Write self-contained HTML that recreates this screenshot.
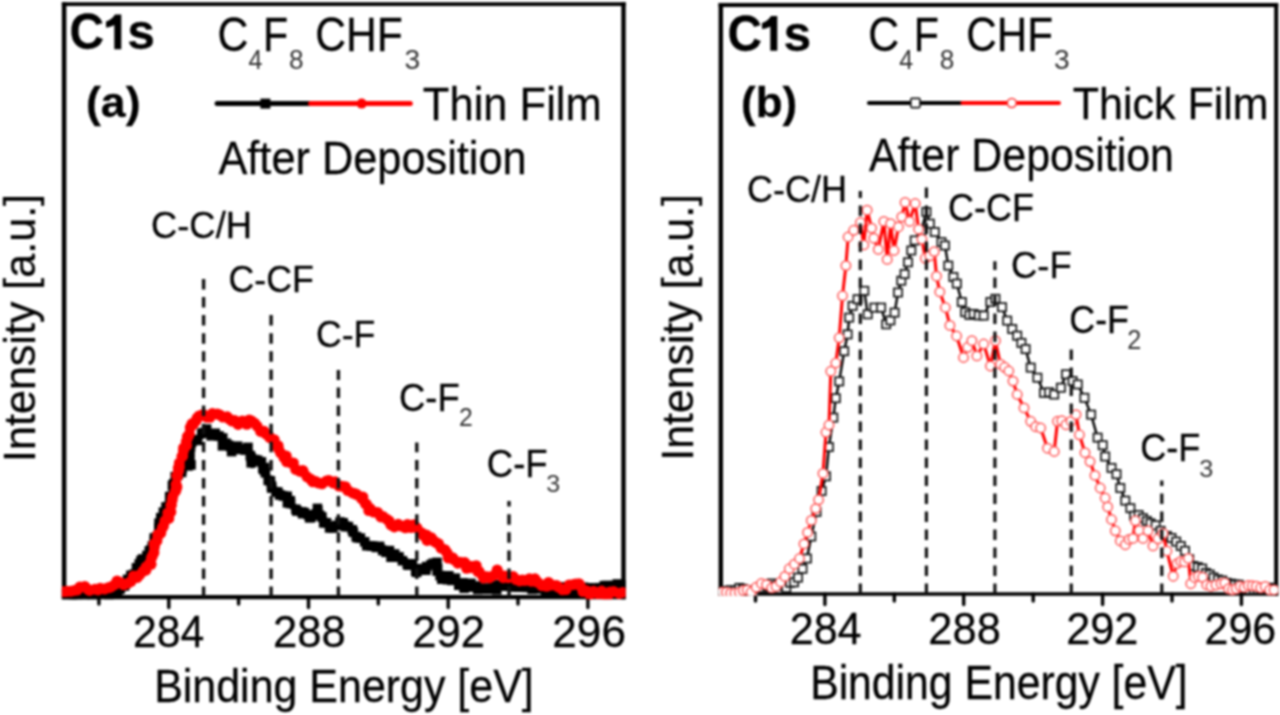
<!DOCTYPE html>
<html><head><meta charset="utf-8"><style>
html,body{margin:0;padding:0;background:#fff;width:1280px;height:715px;overflow:hidden}
svg{display:block}
text{font-family:"Liberation Sans", sans-serif;fill:#000;stroke:#000;stroke-width:0.25px}
text.sub{fill:#333;stroke:none}
#wrap{filter:blur(1px)}
</style></head><body>
<div id="wrap"><svg width="1280" height="715" viewBox="0 0 1280 715">
<rect width="1280" height="715" fill="#fff"/>
<clipPath id="clipa"><rect x="61.849999999999994" y="4.1" width="563.85" height="595.15"/></clipPath>
<path d="M64.1,597.1 V4.1 H623.5 V597.1 Z" fill="none" stroke="#000" stroke-width="0"/>
<line x1="64.1" y1="2.1499999999999995" x2="64.1" y2="599.25" stroke="#000" stroke-width="4.5"/>
<line x1="623.5" y1="2.1499999999999995" x2="623.5" y2="599.25" stroke="#000" stroke-width="4.4"/>
<line x1="61.849999999999994" y1="4.1" x2="625.7" y2="4.1" stroke="#000" stroke-width="3.9"/>
<line x1="61.849999999999994" y1="597.1" x2="625.7" y2="597.1" stroke="#000" stroke-width="4.3"/>
<line x1="98.9" y1="597.1" x2="98.9" y2="604.1" stroke="#000" stroke-width="3.4" stroke-linecap="round"/>
<line x1="168.8" y1="597.1" x2="168.8" y2="607.6" stroke="#000" stroke-width="3.4" stroke-linecap="round"/>
<line x1="238.6" y1="597.1" x2="238.6" y2="604.1" stroke="#000" stroke-width="3.4" stroke-linecap="round"/>
<line x1="308.5" y1="597.1" x2="308.5" y2="607.6" stroke="#000" stroke-width="3.4" stroke-linecap="round"/>
<line x1="378.3" y1="597.1" x2="378.3" y2="604.1" stroke="#000" stroke-width="3.4" stroke-linecap="round"/>
<line x1="448.2" y1="597.1" x2="448.2" y2="607.6" stroke="#000" stroke-width="3.4" stroke-linecap="round"/>
<line x1="518.0" y1="597.1" x2="518.0" y2="604.1" stroke="#000" stroke-width="3.4" stroke-linecap="round"/>
<line x1="587.9" y1="597.1" x2="587.9" y2="607.6" stroke="#000" stroke-width="3.4" stroke-linecap="round"/>
<g clip-path="url(#clipa)">
<polyline points="64.0,596.0 100.0,595.0 120.0,592.0 131.6,575.0 151.7,547.4 160.7,522.8 167.4,507.0 176.3,478.0 184.0,464.6 189.8,463.5 191.8,445.0 199.6,437.2 207.4,431.3 219.2,437.2 229.0,449.0 238.8,447.0 248.5,449.0 252.5,464.6 258.3,458.8 264.2,470.5 270.0,482.3 276.0,492.0 283.8,494.0 291.6,505.8 299.5,509.7 307.3,517.5 317.1,509.7 321.0,515.5 328.8,525.3 336.7,525.3 347.6,524.6 357.4,536.4 369.2,546.2 381.0,546.2 392.7,556.0 404.4,559.9 416.2,569.7 426.0,567.7 435.8,563.8 439.7,575.5 451.4,577.5 463.2,585.3 474.9,586.5 495.2,587.0 520.0,588.5 545.0,589.5 583.4,589.0 614.8,585.5 624.0,585.5" fill="none" stroke="#000" stroke-width="7" stroke-linejoin="round"/>
<rect x="58.7" y="589.0" width="9.6" height="9.6" fill="#000"/>
<rect x="63.2" y="588.4" width="9.6" height="9.6" fill="#000"/>
<rect x="66.3" y="590.1" width="9.6" height="9.6" fill="#000"/>
<rect x="68.4" y="591.0" width="9.6" height="9.6" fill="#000"/>
<rect x="71.8" y="590.4" width="9.6" height="9.6" fill="#000"/>
<rect x="75.4" y="588.1" width="9.6" height="9.6" fill="#000"/>
<rect x="80.0" y="592.7" width="9.6" height="9.6" fill="#000"/>
<rect x="82.6" y="588.7" width="9.6" height="9.6" fill="#000"/>
<rect x="87.6" y="593.3" width="9.6" height="9.6" fill="#000"/>
<rect x="90.9" y="589.7" width="9.6" height="9.6" fill="#000"/>
<rect x="95.6" y="587.3" width="9.6" height="9.6" fill="#000"/>
<rect x="98.7" y="588.5" width="9.6" height="9.6" fill="#000"/>
<rect x="100.1" y="586.9" width="9.6" height="9.6" fill="#000"/>
<rect x="104.0" y="590.8" width="9.6" height="9.6" fill="#000"/>
<rect x="107.1" y="588.8" width="9.6" height="9.6" fill="#000"/>
<rect x="111.9" y="586.9" width="9.6" height="9.6" fill="#000"/>
<rect x="115.1" y="584.4" width="9.6" height="9.6" fill="#000"/>
<rect x="115.7" y="582.6" width="9.6" height="9.6" fill="#000"/>
<rect x="119.6" y="581.2" width="9.6" height="9.6" fill="#000"/>
<rect x="120.4" y="579.3" width="9.6" height="9.6" fill="#000"/>
<rect x="122.8" y="574.6" width="9.6" height="9.6" fill="#000"/>
<rect x="125.8" y="574.2" width="9.6" height="9.6" fill="#000"/>
<rect x="126.1" y="570.5" width="9.6" height="9.6" fill="#000"/>
<rect x="129.0" y="569.6" width="9.6" height="9.6" fill="#000"/>
<rect x="131.7" y="563.0" width="9.6" height="9.6" fill="#000"/>
<rect x="134.5" y="559.1" width="9.6" height="9.6" fill="#000"/>
<rect x="134.9" y="560.4" width="9.6" height="9.6" fill="#000"/>
<rect x="136.2" y="555.8" width="9.6" height="9.6" fill="#000"/>
<rect x="137.9" y="554.2" width="9.6" height="9.6" fill="#000"/>
<rect x="142.1" y="550.7" width="9.6" height="9.6" fill="#000"/>
<rect x="144.5" y="546.2" width="9.6" height="9.6" fill="#000"/>
<rect x="146.0" y="545.2" width="9.6" height="9.6" fill="#000"/>
<rect x="147.5" y="541.3" width="9.6" height="9.6" fill="#000"/>
<rect x="149.5" y="541.2" width="9.6" height="9.6" fill="#000"/>
<rect x="149.6" y="536.1" width="9.6" height="9.6" fill="#000"/>
<rect x="149.5" y="533.1" width="9.6" height="9.6" fill="#000"/>
<rect x="152.5" y="531.6" width="9.6" height="9.6" fill="#000"/>
<rect x="154.2" y="523.8" width="9.6" height="9.6" fill="#000"/>
<rect x="154.1" y="523.0" width="9.6" height="9.6" fill="#000"/>
<rect x="154.2" y="518.4" width="9.6" height="9.6" fill="#000"/>
<rect x="156.0" y="512.9" width="9.6" height="9.6" fill="#000"/>
<rect x="157.1" y="513.9" width="9.6" height="9.6" fill="#000"/>
<rect x="158.6" y="507.3" width="9.6" height="9.6" fill="#000"/>
<rect x="160.8" y="508.1" width="9.6" height="9.6" fill="#000"/>
<rect x="161.2" y="502.2" width="9.6" height="9.6" fill="#000"/>
<rect x="163.7" y="501.6" width="9.6" height="9.6" fill="#000"/>
<rect x="165.5" y="498.1" width="9.6" height="9.6" fill="#000"/>
<rect x="164.9" y="491.9" width="9.6" height="9.6" fill="#000"/>
<rect x="166.2" y="491.6" width="9.6" height="9.6" fill="#000"/>
<rect x="169.0" y="483.5" width="9.6" height="9.6" fill="#000"/>
<rect x="167.7" y="480.7" width="9.6" height="9.6" fill="#000"/>
<rect x="168.9" y="479.0" width="9.6" height="9.6" fill="#000"/>
<rect x="171.0" y="474.2" width="9.6" height="9.6" fill="#000"/>
<rect x="170.4" y="471.9" width="9.6" height="9.6" fill="#000"/>
<rect x="173.3" y="469.9" width="9.6" height="9.6" fill="#000"/>
<rect x="176.8" y="467.6" width="9.6" height="9.6" fill="#000"/>
<rect x="177.2" y="464.1" width="9.6" height="9.6" fill="#000"/>
<rect x="179.4" y="457.5" width="9.6" height="9.6" fill="#000"/>
<rect x="183.2" y="461.1" width="9.6" height="9.6" fill="#000"/>
<rect x="186.2" y="460.1" width="9.6" height="9.6" fill="#000"/>
<rect x="185.1" y="454.1" width="9.6" height="9.6" fill="#000"/>
<rect x="184.6" y="452.1" width="9.6" height="9.6" fill="#000"/>
<rect x="184.9" y="445.0" width="9.6" height="9.6" fill="#000"/>
<rect x="185.7" y="442.1" width="9.6" height="9.6" fill="#000"/>
<rect x="186.5" y="438.0" width="9.6" height="9.6" fill="#000"/>
<rect x="187.5" y="435.9" width="9.6" height="9.6" fill="#000"/>
<rect x="190.3" y="434.8" width="9.6" height="9.6" fill="#000"/>
<rect x="192.6" y="435.6" width="9.6" height="9.6" fill="#000"/>
<rect x="197.0" y="428.7" width="9.6" height="9.6" fill="#000"/>
<rect x="198.7" y="427.9" width="9.6" height="9.6" fill="#000"/>
<rect x="201.8" y="424.3" width="9.6" height="9.6" fill="#000"/>
<rect x="206.4" y="431.0" width="9.6" height="9.6" fill="#000"/>
<rect x="208.4" y="429.3" width="9.6" height="9.6" fill="#000"/>
<rect x="210.4" y="428.5" width="9.6" height="9.6" fill="#000"/>
<rect x="214.2" y="431.2" width="9.6" height="9.6" fill="#000"/>
<rect x="217.9" y="433.2" width="9.6" height="9.6" fill="#000"/>
<rect x="217.7" y="441.0" width="9.6" height="9.6" fill="#000"/>
<rect x="221.4" y="438.5" width="9.6" height="9.6" fill="#000"/>
<rect x="223.7" y="440.4" width="9.6" height="9.6" fill="#000"/>
<rect x="226.8" y="446.8" width="9.6" height="9.6" fill="#000"/>
<rect x="231.2" y="444.2" width="9.6" height="9.6" fill="#000"/>
<rect x="232.8" y="441.4" width="9.6" height="9.6" fill="#000"/>
<rect x="236.0" y="444.6" width="9.6" height="9.6" fill="#000"/>
<rect x="240.5" y="445.3" width="9.6" height="9.6" fill="#000"/>
<rect x="243.2" y="442.6" width="9.6" height="9.6" fill="#000"/>
<rect x="245.5" y="450.8" width="9.6" height="9.6" fill="#000"/>
<rect x="246.5" y="453.1" width="9.6" height="9.6" fill="#000"/>
<rect x="247.3" y="456.0" width="9.6" height="9.6" fill="#000"/>
<rect x="246.4" y="458.0" width="9.6" height="9.6" fill="#000"/>
<rect x="248.3" y="455.7" width="9.6" height="9.6" fill="#000"/>
<rect x="249.8" y="454.8" width="9.6" height="9.6" fill="#000"/>
<rect x="252.9" y="455.5" width="9.6" height="9.6" fill="#000"/>
<rect x="256.6" y="457.1" width="9.6" height="9.6" fill="#000"/>
<rect x="258.1" y="463.7" width="9.6" height="9.6" fill="#000"/>
<rect x="259.7" y="462.8" width="9.6" height="9.6" fill="#000"/>
<rect x="259.1" y="465.0" width="9.6" height="9.6" fill="#000"/>
<rect x="260.6" y="468.0" width="9.6" height="9.6" fill="#000"/>
<rect x="263.4" y="475.6" width="9.6" height="9.6" fill="#000"/>
<rect x="265.6" y="476.1" width="9.6" height="9.6" fill="#000"/>
<rect x="266.7" y="481.2" width="9.6" height="9.6" fill="#000"/>
<rect x="266.9" y="483.3" width="9.6" height="9.6" fill="#000"/>
<rect x="271.2" y="487.0" width="9.6" height="9.6" fill="#000"/>
<rect x="273.1" y="487.3" width="9.6" height="9.6" fill="#000"/>
<rect x="274.8" y="490.2" width="9.6" height="9.6" fill="#000"/>
<rect x="278.6" y="491.2" width="9.6" height="9.6" fill="#000"/>
<rect x="282.4" y="491.5" width="9.6" height="9.6" fill="#000"/>
<rect x="282.6" y="498.0" width="9.6" height="9.6" fill="#000"/>
<rect x="285.5" y="495.9" width="9.6" height="9.6" fill="#000"/>
<rect x="285.7" y="498.7" width="9.6" height="9.6" fill="#000"/>
<rect x="291.1" y="504.5" width="9.6" height="9.6" fill="#000"/>
<rect x="292.0" y="506.2" width="9.6" height="9.6" fill="#000"/>
<rect x="297.3" y="507.1" width="9.6" height="9.6" fill="#000"/>
<rect x="297.9" y="508.9" width="9.6" height="9.6" fill="#000"/>
<rect x="299.7" y="507.9" width="9.6" height="9.6" fill="#000"/>
<rect x="304.8" y="513.0" width="9.6" height="9.6" fill="#000"/>
<rect x="306.2" y="512.6" width="9.6" height="9.6" fill="#000"/>
<rect x="308.7" y="510.0" width="9.6" height="9.6" fill="#000"/>
<rect x="312.6" y="503.6" width="9.6" height="9.6" fill="#000"/>
<rect x="313.0" y="505.7" width="9.6" height="9.6" fill="#000"/>
<rect x="314.9" y="510.5" width="9.6" height="9.6" fill="#000"/>
<rect x="317.1" y="512.2" width="9.6" height="9.6" fill="#000"/>
<rect x="318.9" y="518.1" width="9.6" height="9.6" fill="#000"/>
<rect x="321.7" y="518.0" width="9.6" height="9.6" fill="#000"/>
<rect x="324.8" y="523.1" width="9.6" height="9.6" fill="#000"/>
<rect x="327.9" y="523.2" width="9.6" height="9.6" fill="#000"/>
<rect x="331.6" y="520.7" width="9.6" height="9.6" fill="#000"/>
<rect x="335.2" y="517.2" width="9.6" height="9.6" fill="#000"/>
<rect x="338.4" y="518.0" width="9.6" height="9.6" fill="#000"/>
<rect x="340.6" y="521.8" width="9.6" height="9.6" fill="#000"/>
<rect x="343.6" y="521.8" width="9.6" height="9.6" fill="#000"/>
<rect x="347.5" y="525.0" width="9.6" height="9.6" fill="#000"/>
<rect x="348.5" y="527.4" width="9.6" height="9.6" fill="#000"/>
<rect x="351.4" y="531.8" width="9.6" height="9.6" fill="#000"/>
<rect x="352.5" y="532.9" width="9.6" height="9.6" fill="#000"/>
<rect x="355.6" y="533.3" width="9.6" height="9.6" fill="#000"/>
<rect x="359.9" y="537.0" width="9.6" height="9.6" fill="#000"/>
<rect x="362.0" y="540.9" width="9.6" height="9.6" fill="#000"/>
<rect x="365.7" y="541.0" width="9.6" height="9.6" fill="#000"/>
<rect x="368.3" y="541.4" width="9.6" height="9.6" fill="#000"/>
<rect x="371.5" y="542.6" width="9.6" height="9.6" fill="#000"/>
<rect x="374.8" y="541.6" width="9.6" height="9.6" fill="#000"/>
<rect x="377.9" y="545.7" width="9.6" height="9.6" fill="#000"/>
<rect x="381.2" y="547.5" width="9.6" height="9.6" fill="#000"/>
<rect x="384.6" y="545.8" width="9.6" height="9.6" fill="#000"/>
<rect x="386.2" y="552.4" width="9.6" height="9.6" fill="#000"/>
<rect x="389.9" y="549.2" width="9.6" height="9.6" fill="#000"/>
<rect x="391.1" y="552.3" width="9.6" height="9.6" fill="#000"/>
<rect x="394.2" y="552.1" width="9.6" height="9.6" fill="#000"/>
<rect x="397.6" y="555.9" width="9.6" height="9.6" fill="#000"/>
<rect x="402.5" y="559.4" width="9.6" height="9.6" fill="#000"/>
<rect x="403.3" y="560.4" width="9.6" height="9.6" fill="#000"/>
<rect x="407.5" y="559.0" width="9.6" height="9.6" fill="#000"/>
<rect x="410.9" y="566.5" width="9.6" height="9.6" fill="#000"/>
<rect x="411.9" y="567.5" width="9.6" height="9.6" fill="#000"/>
<rect x="415.9" y="563.8" width="9.6" height="9.6" fill="#000"/>
<rect x="421.1" y="565.4" width="9.6" height="9.6" fill="#000"/>
<rect x="421.9" y="561.8" width="9.6" height="9.6" fill="#000"/>
<rect x="426.2" y="559.9" width="9.6" height="9.6" fill="#000"/>
<rect x="428.5" y="558.5" width="9.6" height="9.6" fill="#000"/>
<rect x="432.2" y="557.6" width="9.6" height="9.6" fill="#000"/>
<rect x="432.8" y="563.7" width="9.6" height="9.6" fill="#000"/>
<rect x="432.3" y="566.3" width="9.6" height="9.6" fill="#000"/>
<rect x="435.3" y="570.8" width="9.6" height="9.6" fill="#000"/>
<rect x="437.0" y="574.4" width="9.6" height="9.6" fill="#000"/>
<rect x="442.6" y="574.9" width="9.6" height="9.6" fill="#000"/>
<rect x="444.0" y="571.0" width="9.6" height="9.6" fill="#000"/>
<rect x="447.0" y="575.6" width="9.6" height="9.6" fill="#000"/>
<rect x="450.6" y="573.4" width="9.6" height="9.6" fill="#000"/>
<rect x="454.0" y="580.4" width="9.6" height="9.6" fill="#000"/>
<rect x="458.1" y="578.1" width="9.6" height="9.6" fill="#000"/>
<rect x="459.3" y="583.4" width="9.6" height="9.6" fill="#000"/>
<rect x="464.0" y="582.3" width="9.6" height="9.6" fill="#000"/>
<rect x="466.1" y="578.6" width="9.6" height="9.6" fill="#000"/>
<rect x="471.4" y="581.2" width="9.6" height="9.6" fill="#000"/>
<rect x="473.0" y="584.6" width="9.6" height="9.6" fill="#000"/>
<rect x="478.2" y="583.8" width="9.6" height="9.6" fill="#000"/>
<rect x="480.0" y="584.3" width="9.6" height="9.6" fill="#000"/>
<rect x="483.5" y="584.4" width="9.6" height="9.6" fill="#000"/>
<rect x="488.2" y="581.1" width="9.6" height="9.6" fill="#000"/>
<rect x="491.9" y="585.0" width="9.6" height="9.6" fill="#000"/>
<rect x="494.6" y="580.1" width="9.6" height="9.6" fill="#000"/>
<rect x="498.9" y="581.0" width="9.6" height="9.6" fill="#000"/>
<rect x="501.1" y="580.8" width="9.6" height="9.6" fill="#000"/>
<rect x="504.4" y="581.2" width="9.6" height="9.6" fill="#000"/>
<rect x="508.7" y="582.1" width="9.6" height="9.6" fill="#000"/>
<rect x="513.5" y="582.2" width="9.6" height="9.6" fill="#000"/>
<rect x="516.2" y="581.7" width="9.6" height="9.6" fill="#000"/>
<rect x="519.3" y="580.8" width="9.6" height="9.6" fill="#000"/>
<rect x="522.5" y="580.9" width="9.6" height="9.6" fill="#000"/>
<rect x="527.4" y="584.5" width="9.6" height="9.6" fill="#000"/>
<rect x="529.3" y="584.1" width="9.6" height="9.6" fill="#000"/>
<rect x="535.0" y="581.9" width="9.6" height="9.6" fill="#000"/>
<rect x="538.2" y="584.1" width="9.6" height="9.6" fill="#000"/>
<rect x="540.7" y="586.8" width="9.6" height="9.6" fill="#000"/>
<rect x="543.9" y="584.7" width="9.6" height="9.6" fill="#000"/>
<rect x="548.3" y="587.7" width="9.6" height="9.6" fill="#000"/>
<rect x="550.8" y="586.7" width="9.6" height="9.6" fill="#000"/>
<rect x="555.3" y="585.4" width="9.6" height="9.6" fill="#000"/>
<rect x="557.9" y="583.5" width="9.6" height="9.6" fill="#000"/>
<rect x="560.4" y="582.1" width="9.6" height="9.6" fill="#000"/>
<rect x="563.9" y="585.9" width="9.6" height="9.6" fill="#000"/>
<rect x="568.0" y="582.2" width="9.6" height="9.6" fill="#000"/>
<rect x="571.0" y="586.5" width="9.6" height="9.6" fill="#000"/>
<rect x="576.8" y="585.3" width="9.6" height="9.6" fill="#000"/>
<rect x="578.6" y="582.5" width="9.6" height="9.6" fill="#000"/>
<rect x="582.1" y="583.5" width="9.6" height="9.6" fill="#000"/>
<rect x="585.1" y="583.0" width="9.6" height="9.6" fill="#000"/>
<rect x="588.9" y="585.9" width="9.6" height="9.6" fill="#000"/>
<rect x="594.6" y="582.9" width="9.6" height="9.6" fill="#000"/>
<rect x="595.8" y="585.2" width="9.6" height="9.6" fill="#000"/>
<rect x="599.5" y="580.9" width="9.6" height="9.6" fill="#000"/>
<rect x="602.1" y="580.7" width="9.6" height="9.6" fill="#000"/>
<rect x="607.0" y="581.0" width="9.6" height="9.6" fill="#000"/>
<rect x="609.6" y="580.7" width="9.6" height="9.6" fill="#000"/>
<rect x="612.5" y="579.2" width="9.6" height="9.6" fill="#000"/>
<rect x="616.3" y="580.1" width="9.6" height="9.6" fill="#000"/>
<polyline points="64.0,594.0 77.9,587.7 91.3,588.8 103.0,588.0 115.9,583.2 127.1,583.2 136.0,576.5 145.0,572.0 150.6,562.0 155.0,545.0 159.5,534.0 165.0,522.8 169.6,511.6 173.0,499.3 176.3,484.7 180.8,460.0 182.0,452.9 187.8,439.2 191.8,425.5 197.6,414.7 205.5,417.6 213.3,415.7 223.1,415.7 230.9,421.5 238.8,422.5 250.5,421.5 260.3,429.4 268.1,435.3 276.0,445.0 281.8,454.8 289.7,462.7 297.5,468.5 305.3,474.4 313.0,481.0 325.0,482.0 332.0,481.5 341.8,487.4 353.5,493.3 363.3,499.2 369.2,510.0 379.0,514.8 388.8,522.7 400.5,526.6 410.3,524.6 418.1,528.5 427.9,538.3 437.7,544.2 447.5,556.0 459.3,561.8 471.0,569.7 475.0,566.6 482.6,576.7 489.0,578.0 496.4,572.0 505.3,577.5 514.0,578.0 524.2,581.5 533.0,580.0 543.0,583.5 555.6,585.5 562.0,589.0 577.0,584.0 585.9,591.5 596.0,593.0 608.5,593.0 624.0,593.0" fill="none" stroke="#f00" stroke-width="7" stroke-linejoin="round"/>
<circle cx="62.9" cy="591.7" r="5.5" fill="#f00"/>
<circle cx="66.7" cy="591.3" r="5.5" fill="#f00"/>
<circle cx="70.6" cy="591.3" r="5.5" fill="#f00"/>
<circle cx="74.2" cy="590.4" r="5.5" fill="#f00"/>
<circle cx="77.3" cy="590.0" r="5.5" fill="#f00"/>
<circle cx="79.9" cy="587.0" r="5.5" fill="#f00"/>
<circle cx="84.8" cy="586.5" r="5.5" fill="#f00"/>
<circle cx="87.6" cy="589.1" r="5.5" fill="#f00"/>
<circle cx="89.5" cy="590.4" r="5.5" fill="#f00"/>
<circle cx="95.0" cy="589.2" r="5.5" fill="#f00"/>
<circle cx="98.1" cy="589.9" r="5.5" fill="#f00"/>
<circle cx="100.2" cy="588.2" r="5.5" fill="#f00"/>
<circle cx="104.5" cy="589.1" r="5.5" fill="#f00"/>
<circle cx="108.5" cy="587.8" r="5.5" fill="#f00"/>
<circle cx="111.2" cy="586.9" r="5.5" fill="#f00"/>
<circle cx="114.7" cy="584.7" r="5.5" fill="#f00"/>
<circle cx="117.1" cy="580.9" r="5.5" fill="#f00"/>
<circle cx="120.3" cy="582.5" r="5.5" fill="#f00"/>
<circle cx="123.8" cy="584.8" r="5.5" fill="#f00"/>
<circle cx="128.1" cy="583.2" r="5.5" fill="#f00"/>
<circle cx="131.1" cy="581.3" r="5.5" fill="#f00"/>
<circle cx="133.5" cy="575.9" r="5.5" fill="#f00"/>
<circle cx="137.1" cy="577.5" r="5.5" fill="#f00"/>
<circle cx="139.6" cy="574.9" r="5.5" fill="#f00"/>
<circle cx="143.1" cy="571.1" r="5.5" fill="#f00"/>
<circle cx="146.0" cy="570.0" r="5.5" fill="#f00"/>
<circle cx="146.1" cy="567.0" r="5.5" fill="#f00"/>
<circle cx="149.4" cy="563.7" r="5.5" fill="#f00"/>
<circle cx="151.1" cy="564.3" r="5.5" fill="#f00"/>
<circle cx="151.4" cy="558.1" r="5.5" fill="#f00"/>
<circle cx="152.3" cy="556.2" r="5.5" fill="#f00"/>
<circle cx="153.9" cy="552.5" r="5.5" fill="#f00"/>
<circle cx="154.4" cy="546.5" r="5.5" fill="#f00"/>
<circle cx="154.1" cy="543.9" r="5.5" fill="#f00"/>
<circle cx="156.9" cy="540.9" r="5.5" fill="#f00"/>
<circle cx="157.8" cy="536.3" r="5.5" fill="#f00"/>
<circle cx="157.9" cy="534.3" r="5.5" fill="#f00"/>
<circle cx="160.8" cy="533.1" r="5.5" fill="#f00"/>
<circle cx="162.3" cy="528.1" r="5.5" fill="#f00"/>
<circle cx="163.5" cy="525.8" r="5.5" fill="#f00"/>
<circle cx="164.9" cy="521.0" r="5.5" fill="#f00"/>
<circle cx="167.3" cy="518.1" r="5.5" fill="#f00"/>
<circle cx="168.8" cy="518.4" r="5.5" fill="#f00"/>
<circle cx="167.8" cy="512.9" r="5.5" fill="#f00"/>
<circle cx="170.9" cy="512.0" r="5.5" fill="#f00"/>
<circle cx="170.9" cy="505.3" r="5.5" fill="#f00"/>
<circle cx="171.3" cy="505.2" r="5.5" fill="#f00"/>
<circle cx="172.2" cy="500.0" r="5.5" fill="#f00"/>
<circle cx="172.8" cy="496.3" r="5.5" fill="#f00"/>
<circle cx="175.6" cy="491.1" r="5.5" fill="#f00"/>
<circle cx="176.0" cy="489.4" r="5.5" fill="#f00"/>
<circle cx="176.9" cy="487.0" r="5.5" fill="#f00"/>
<circle cx="176.0" cy="484.5" r="5.5" fill="#f00"/>
<circle cx="177.3" cy="476.8" r="5.5" fill="#f00"/>
<circle cx="176.8" cy="475.6" r="5.5" fill="#f00"/>
<circle cx="178.5" cy="471.3" r="5.5" fill="#f00"/>
<circle cx="178.3" cy="468.0" r="5.5" fill="#f00"/>
<circle cx="179.4" cy="467.0" r="5.5" fill="#f00"/>
<circle cx="179.3" cy="463.1" r="5.5" fill="#f00"/>
<circle cx="181.9" cy="456.6" r="5.5" fill="#f00"/>
<circle cx="182.7" cy="456.0" r="5.5" fill="#f00"/>
<circle cx="183.5" cy="450.6" r="5.5" fill="#f00"/>
<circle cx="183.6" cy="447.9" r="5.5" fill="#f00"/>
<circle cx="186.5" cy="445.6" r="5.5" fill="#f00"/>
<circle cx="186.3" cy="441.6" r="5.5" fill="#f00"/>
<circle cx="187.4" cy="436.6" r="5.5" fill="#f00"/>
<circle cx="188.0" cy="437.0" r="5.5" fill="#f00"/>
<circle cx="189.4" cy="434.1" r="5.5" fill="#f00"/>
<circle cx="190.3" cy="427.5" r="5.5" fill="#f00"/>
<circle cx="191.9" cy="423.8" r="5.5" fill="#f00"/>
<circle cx="193.3" cy="424.4" r="5.5" fill="#f00"/>
<circle cx="196.1" cy="420.6" r="5.5" fill="#f00"/>
<circle cx="197.2" cy="418.0" r="5.5" fill="#f00"/>
<circle cx="200.5" cy="415.6" r="5.5" fill="#f00"/>
<circle cx="203.3" cy="414.4" r="5.5" fill="#f00"/>
<circle cx="206.6" cy="417.2" r="5.5" fill="#f00"/>
<circle cx="210.0" cy="417.3" r="5.5" fill="#f00"/>
<circle cx="212.3" cy="413.6" r="5.5" fill="#f00"/>
<circle cx="217.3" cy="413.9" r="5.5" fill="#f00"/>
<circle cx="219.8" cy="414.9" r="5.5" fill="#f00"/>
<circle cx="222.8" cy="417.0" r="5.5" fill="#f00"/>
<circle cx="227.2" cy="416.8" r="5.5" fill="#f00"/>
<circle cx="229.3" cy="419.1" r="5.5" fill="#f00"/>
<circle cx="232.0" cy="421.1" r="5.5" fill="#f00"/>
<circle cx="234.6" cy="420.4" r="5.5" fill="#f00"/>
<circle cx="238.1" cy="424.4" r="5.5" fill="#f00"/>
<circle cx="242.3" cy="420.9" r="5.5" fill="#f00"/>
<circle cx="246.8" cy="424.3" r="5.5" fill="#f00"/>
<circle cx="249.2" cy="419.9" r="5.5" fill="#f00"/>
<circle cx="251.5" cy="421.0" r="5.5" fill="#f00"/>
<circle cx="254.6" cy="423.2" r="5.5" fill="#f00"/>
<circle cx="257.1" cy="426.2" r="5.5" fill="#f00"/>
<circle cx="260.6" cy="431.4" r="5.5" fill="#f00"/>
<circle cx="263.9" cy="431.2" r="5.5" fill="#f00"/>
<circle cx="265.8" cy="433.9" r="5.5" fill="#f00"/>
<circle cx="268.4" cy="435.2" r="5.5" fill="#f00"/>
<circle cx="269.8" cy="437.7" r="5.5" fill="#f00"/>
<circle cx="274.2" cy="439.7" r="5.5" fill="#f00"/>
<circle cx="275.3" cy="444.8" r="5.5" fill="#f00"/>
<circle cx="278.1" cy="445.7" r="5.5" fill="#f00"/>
<circle cx="278.5" cy="448.9" r="5.5" fill="#f00"/>
<circle cx="280.6" cy="452.8" r="5.5" fill="#f00"/>
<circle cx="284.0" cy="457.6" r="5.5" fill="#f00"/>
<circle cx="286.3" cy="456.1" r="5.5" fill="#f00"/>
<circle cx="286.7" cy="461.8" r="5.5" fill="#f00"/>
<circle cx="291.3" cy="463.1" r="5.5" fill="#f00"/>
<circle cx="293.4" cy="462.9" r="5.5" fill="#f00"/>
<circle cx="295.7" cy="469.4" r="5.5" fill="#f00"/>
<circle cx="299.6" cy="471.2" r="5.5" fill="#f00"/>
<circle cx="302.7" cy="470.4" r="5.5" fill="#f00"/>
<circle cx="303.4" cy="472.1" r="5.5" fill="#f00"/>
<circle cx="307.1" cy="476.8" r="5.5" fill="#f00"/>
<circle cx="310.8" cy="479.3" r="5.5" fill="#f00"/>
<circle cx="312.8" cy="481.8" r="5.5" fill="#f00"/>
<circle cx="315.6" cy="481.5" r="5.5" fill="#f00"/>
<circle cx="318.1" cy="482.9" r="5.5" fill="#f00"/>
<circle cx="322.0" cy="483.8" r="5.5" fill="#f00"/>
<circle cx="326.5" cy="481.0" r="5.5" fill="#f00"/>
<circle cx="328.8" cy="480.5" r="5.5" fill="#f00"/>
<circle cx="333.3" cy="483.0" r="5.5" fill="#f00"/>
<circle cx="335.1" cy="481.8" r="5.5" fill="#f00"/>
<circle cx="339.0" cy="486.1" r="5.5" fill="#f00"/>
<circle cx="341.7" cy="486.2" r="5.5" fill="#f00"/>
<circle cx="345.4" cy="486.7" r="5.5" fill="#f00"/>
<circle cx="347.8" cy="490.5" r="5.5" fill="#f00"/>
<circle cx="352.5" cy="492.9" r="5.5" fill="#f00"/>
<circle cx="355.4" cy="493.8" r="5.5" fill="#f00"/>
<circle cx="356.8" cy="494.5" r="5.5" fill="#f00"/>
<circle cx="361.6" cy="498.5" r="5.5" fill="#f00"/>
<circle cx="362.9" cy="497.1" r="5.5" fill="#f00"/>
<circle cx="365.1" cy="503.3" r="5.5" fill="#f00"/>
<circle cx="366.5" cy="504.3" r="5.5" fill="#f00"/>
<circle cx="368.8" cy="510.6" r="5.5" fill="#f00"/>
<circle cx="370.2" cy="508.6" r="5.5" fill="#f00"/>
<circle cx="373.6" cy="512.0" r="5.5" fill="#f00"/>
<circle cx="377.6" cy="512.5" r="5.5" fill="#f00"/>
<circle cx="380.8" cy="516.9" r="5.5" fill="#f00"/>
<circle cx="382.9" cy="516.5" r="5.5" fill="#f00"/>
<circle cx="386.7" cy="519.2" r="5.5" fill="#f00"/>
<circle cx="389.1" cy="521.0" r="5.5" fill="#f00"/>
<circle cx="390.9" cy="524.9" r="5.5" fill="#f00"/>
<circle cx="394.3" cy="526.9" r="5.5" fill="#f00"/>
<circle cx="398.2" cy="524.3" r="5.5" fill="#f00"/>
<circle cx="400.8" cy="526.0" r="5.5" fill="#f00"/>
<circle cx="405.3" cy="527.8" r="5.5" fill="#f00"/>
<circle cx="407.5" cy="524.5" r="5.5" fill="#f00"/>
<circle cx="411.0" cy="527.6" r="5.5" fill="#f00"/>
<circle cx="413.9" cy="524.7" r="5.5" fill="#f00"/>
<circle cx="416.9" cy="527.9" r="5.5" fill="#f00"/>
<circle cx="421.4" cy="532.7" r="5.5" fill="#f00"/>
<circle cx="423.5" cy="535.7" r="5.5" fill="#f00"/>
<circle cx="426.4" cy="535.0" r="5.5" fill="#f00"/>
<circle cx="427.1" cy="540.4" r="5.5" fill="#f00"/>
<circle cx="431.4" cy="537.8" r="5.5" fill="#f00"/>
<circle cx="434.3" cy="541.3" r="5.5" fill="#f00"/>
<circle cx="436.6" cy="542.9" r="5.5" fill="#f00"/>
<circle cx="438.5" cy="543.7" r="5.5" fill="#f00"/>
<circle cx="441.0" cy="548.1" r="5.5" fill="#f00"/>
<circle cx="444.9" cy="549.7" r="5.5" fill="#f00"/>
<circle cx="447.1" cy="552.8" r="5.5" fill="#f00"/>
<circle cx="448.2" cy="558.1" r="5.5" fill="#f00"/>
<circle cx="452.5" cy="557.7" r="5.5" fill="#f00"/>
<circle cx="453.8" cy="559.5" r="5.5" fill="#f00"/>
<circle cx="457.7" cy="563.2" r="5.5" fill="#f00"/>
<circle cx="460.2" cy="562.3" r="5.5" fill="#f00"/>
<circle cx="464.8" cy="562.6" r="5.5" fill="#f00"/>
<circle cx="466.6" cy="568.3" r="5.5" fill="#f00"/>
<circle cx="470.3" cy="566.6" r="5.5" fill="#f00"/>
<circle cx="471.4" cy="566.4" r="5.5" fill="#f00"/>
<circle cx="476.2" cy="565.7" r="5.5" fill="#f00"/>
<circle cx="477.9" cy="571.6" r="5.5" fill="#f00"/>
<circle cx="479.0" cy="571.4" r="5.5" fill="#f00"/>
<circle cx="482.6" cy="575.8" r="5.5" fill="#f00"/>
<circle cx="483.7" cy="578.1" r="5.5" fill="#f00"/>
<circle cx="487.3" cy="576.7" r="5.5" fill="#f00"/>
<circle cx="489.5" cy="577.9" r="5.5" fill="#f00"/>
<circle cx="494.4" cy="575.1" r="5.5" fill="#f00"/>
<circle cx="497.2" cy="569.9" r="5.5" fill="#f00"/>
<circle cx="498.4" cy="573.5" r="5.5" fill="#f00"/>
<circle cx="503.2" cy="577.7" r="5.5" fill="#f00"/>
<circle cx="504.8" cy="576.1" r="5.5" fill="#f00"/>
<circle cx="508.3" cy="577.7" r="5.5" fill="#f00"/>
<circle cx="513.0" cy="576.4" r="5.5" fill="#f00"/>
<circle cx="516.1" cy="579.6" r="5.5" fill="#f00"/>
<circle cx="519.5" cy="580.9" r="5.5" fill="#f00"/>
<circle cx="522.3" cy="579.9" r="5.5" fill="#f00"/>
<circle cx="524.9" cy="580.6" r="5.5" fill="#f00"/>
<circle cx="529.5" cy="578.7" r="5.5" fill="#f00"/>
<circle cx="531.5" cy="581.3" r="5.5" fill="#f00"/>
<circle cx="535.0" cy="578.8" r="5.5" fill="#f00"/>
<circle cx="537.8" cy="582.3" r="5.5" fill="#f00"/>
<circle cx="541.8" cy="585.5" r="5.5" fill="#f00"/>
<circle cx="546.6" cy="586.3" r="5.5" fill="#f00"/>
<circle cx="548.5" cy="582.5" r="5.5" fill="#f00"/>
<circle cx="551.6" cy="585.0" r="5.5" fill="#f00"/>
<circle cx="556.5" cy="585.4" r="5.5" fill="#f00"/>
<circle cx="558.4" cy="587.0" r="5.5" fill="#f00"/>
<circle cx="562.4" cy="589.8" r="5.5" fill="#f00"/>
<circle cx="566.0" cy="589.5" r="5.5" fill="#f00"/>
<circle cx="569.1" cy="584.9" r="5.5" fill="#f00"/>
<circle cx="572.9" cy="584.7" r="5.5" fill="#f00"/>
<circle cx="575.6" cy="583.9" r="5.5" fill="#f00"/>
<circle cx="579.0" cy="583.7" r="5.5" fill="#f00"/>
<circle cx="580.5" cy="586.2" r="5.5" fill="#f00"/>
<circle cx="582.9" cy="591.5" r="5.5" fill="#f00"/>
<circle cx="586.7" cy="590.8" r="5.5" fill="#f00"/>
<circle cx="589.8" cy="594.5" r="5.5" fill="#f00"/>
<circle cx="593.5" cy="591.3" r="5.5" fill="#f00"/>
<circle cx="597.7" cy="593.7" r="5.5" fill="#f00"/>
<circle cx="601.6" cy="591.1" r="5.5" fill="#f00"/>
<circle cx="603.9" cy="594.5" r="5.5" fill="#f00"/>
<circle cx="608.3" cy="595.0" r="5.5" fill="#f00"/>
<circle cx="609.9" cy="592.0" r="5.5" fill="#f00"/>
<circle cx="613.5" cy="591.5" r="5.5" fill="#f00"/>
<circle cx="619.1" cy="593.4" r="5.5" fill="#f00"/>
<circle cx="622.5" cy="592.4" r="5.5" fill="#f00"/>
</g>
<line x1="203.6" y1="597.1" x2="203.6" y2="277.8" stroke="#111" stroke-width="3.4" stroke-dasharray="10.5 7.6"/>
<line x1="271.1" y1="597.1" x2="271.1" y2="314.2" stroke="#111" stroke-width="3.4" stroke-dasharray="10.5 7.6"/>
<line x1="338.4" y1="597.1" x2="338.4" y2="370" stroke="#111" stroke-width="3.4" stroke-dasharray="10.5 7.6"/>
<line x1="416.8" y1="597.1" x2="416.8" y2="442.5" stroke="#111" stroke-width="3.4" stroke-dasharray="10.5 7.6"/>
<line x1="509" y1="597.1" x2="509" y2="501" stroke="#111" stroke-width="3.4" stroke-dasharray="10.5 7.6"/>
<clipPath id="clipb"><rect x="718.5999999999999" y="5.0" width="559.6000000000001" height="590.75"/></clipPath>
<path d="M720.8,594.0 V5.0 H1276.2 V594.0 Z" fill="none" stroke="#000" stroke-width="0"/>
<line x1="720.8" y1="2.9" x2="720.8" y2="595.75" stroke="#000" stroke-width="4.4"/>
<line x1="1276.2" y1="2.9" x2="1276.2" y2="595.75" stroke="#000" stroke-width="4.0"/>
<line x1="718.5999999999999" y1="5.0" x2="1278.2" y2="5.0" stroke="#000" stroke-width="4.2"/>
<line x1="718.5999999999999" y1="594.0" x2="1278.2" y2="594.0" stroke="#000" stroke-width="3.5"/>
<line x1="755.5" y1="594.0" x2="755.5" y2="601.0" stroke="#000" stroke-width="3.4" stroke-linecap="round"/>
<line x1="824.9" y1="594.0" x2="824.9" y2="604.5" stroke="#000" stroke-width="3.4" stroke-linecap="round"/>
<line x1="894.3" y1="594.0" x2="894.3" y2="601.0" stroke="#000" stroke-width="3.4" stroke-linecap="round"/>
<line x1="963.7" y1="594.0" x2="963.7" y2="604.5" stroke="#000" stroke-width="3.4" stroke-linecap="round"/>
<line x1="1033.2" y1="594.0" x2="1033.2" y2="601.0" stroke="#000" stroke-width="3.4" stroke-linecap="round"/>
<line x1="1102.6" y1="594.0" x2="1102.6" y2="604.5" stroke="#000" stroke-width="3.4" stroke-linecap="round"/>
<line x1="1172.0" y1="594.0" x2="1172.0" y2="601.0" stroke="#000" stroke-width="3.4" stroke-linecap="round"/>
<line x1="1241.4" y1="594.0" x2="1241.4" y2="604.5" stroke="#000" stroke-width="3.4" stroke-linecap="round"/>
<g clip-path="url(#clipb)">
<polyline points="722.0,592.0 726.4,590.8 730.7,590.2 735.0,590.6 739.4,587.9 743.0,588.9 746.7,590.1 750.4,591.5 754.0,592.3 758.4,588.8 762.9,587.9 767.3,586.2 771.7,583.5 775.4,585.8 779.0,584.1 782.6,586.0 786.3,587.9 790.2,582.8 794.1,582.3 798.0,577.6 802.5,568.8 806.9,558.5 811.3,536.5 816.5,511.9 821.6,491.0 826.0,476.3 828.9,447.0 833.3,417.6 835.8,398.2 839.2,381.4 844.2,351.2 847.6,334.4 849.2,317.6 852.6,305.9 857.6,299.2 864.3,290.8 867.7,314.3 874.4,307.6 881.1,307.6 886.2,324.3 890.4,320.4 894.6,312.6 898.0,292.5 901.3,280.7 904.6,274.0 908.0,262.3 911.3,250.5 914.7,240.4 921.4,230.4 926.4,211.9 929.8,223.6 934.8,232.0 941.5,242.1 944.9,245.5 948.3,265.6 953.4,277.0 956.8,283.6 961.8,302.0 965.2,312.2 969.4,314.9 973.6,313.9 978.7,315.4 983.7,315.6 990.4,302.0 995.4,298.8 1002.0,307.2 1007.2,320.6 1012.2,329.0 1017.2,335.7 1021.4,342.9 1025.6,349.1 1030.7,367.6 1037.4,377.7 1044.0,392.8 1049.1,392.3 1054.2,394.5 1060.9,387.7 1066.0,374.3 1072.6,381.0 1077.7,384.4 1084.4,397.8 1091.1,414.6 1097.6,437.6 1102.7,445.2 1105.2,456.5 1111.5,467.9 1116.5,474.2 1120.3,488.0 1125.3,500.6 1130.4,508.2 1134.2,515.7 1138.6,515.0 1143.0,518.2 1146.8,520.9 1150.5,523.3 1155.5,525.3 1160.6,530.8 1166.9,535.9 1171.5,538.0 1176.2,541.6 1180.8,546.0 1185.0,550.8 1189.2,559.2 1193.4,566.0 1197.8,567.1 1202.2,568.6 1206.0,572.9 1209.7,574.5 1213.5,577.4 1217.9,579.5 1222.3,580.5 1226.7,582.8 1231.1,583.7 1234.9,584.5 1238.7,584.7 1242.4,588.5 1246.2,587.5 1250.0,589.8 1253.8,589.5 1257.6,589.3 1261.4,588.8 1265.6,588.1 1269.8,587.7 1274.0,588.8" fill="none" stroke="#000" stroke-width="2.4" stroke-linejoin="round"/>
<rect x="717.9" y="587.9" width="8.2" height="8.2" fill="#fff" stroke="#111" stroke-width="1.7"/>
<rect x="722.2" y="586.7" width="8.2" height="8.2" fill="#fff" stroke="#111" stroke-width="1.7"/>
<rect x="726.6" y="586.1" width="8.2" height="8.2" fill="#fff" stroke="#111" stroke-width="1.7"/>
<rect x="730.9" y="586.5" width="8.2" height="8.2" fill="#fff" stroke="#111" stroke-width="1.7"/>
<rect x="735.3" y="583.8" width="8.2" height="8.2" fill="#fff" stroke="#111" stroke-width="1.7"/>
<rect x="738.9" y="584.8" width="8.2" height="8.2" fill="#fff" stroke="#111" stroke-width="1.7"/>
<rect x="742.6" y="586.0" width="8.2" height="8.2" fill="#fff" stroke="#111" stroke-width="1.7"/>
<rect x="746.2" y="587.4" width="8.2" height="8.2" fill="#fff" stroke="#111" stroke-width="1.7"/>
<rect x="749.9" y="588.2" width="8.2" height="8.2" fill="#fff" stroke="#111" stroke-width="1.7"/>
<rect x="754.3" y="584.7" width="8.2" height="8.2" fill="#fff" stroke="#111" stroke-width="1.7"/>
<rect x="758.8" y="583.8" width="8.2" height="8.2" fill="#fff" stroke="#111" stroke-width="1.7"/>
<rect x="763.2" y="582.1" width="8.2" height="8.2" fill="#fff" stroke="#111" stroke-width="1.7"/>
<rect x="767.6" y="579.4" width="8.2" height="8.2" fill="#fff" stroke="#111" stroke-width="1.7"/>
<rect x="771.2" y="581.7" width="8.2" height="8.2" fill="#fff" stroke="#111" stroke-width="1.7"/>
<rect x="774.9" y="580.0" width="8.2" height="8.2" fill="#fff" stroke="#111" stroke-width="1.7"/>
<rect x="778.5" y="581.9" width="8.2" height="8.2" fill="#fff" stroke="#111" stroke-width="1.7"/>
<rect x="782.2" y="583.8" width="8.2" height="8.2" fill="#fff" stroke="#111" stroke-width="1.7"/>
<rect x="786.1" y="578.7" width="8.2" height="8.2" fill="#fff" stroke="#111" stroke-width="1.7"/>
<rect x="790.0" y="578.2" width="8.2" height="8.2" fill="#fff" stroke="#111" stroke-width="1.7"/>
<rect x="793.9" y="573.5" width="8.2" height="8.2" fill="#fff" stroke="#111" stroke-width="1.7"/>
<rect x="798.4" y="564.7" width="8.2" height="8.2" fill="#fff" stroke="#111" stroke-width="1.7"/>
<rect x="802.8" y="554.4" width="8.2" height="8.2" fill="#fff" stroke="#111" stroke-width="1.7"/>
<rect x="807.2" y="532.4" width="8.2" height="8.2" fill="#fff" stroke="#111" stroke-width="1.7"/>
<rect x="812.4" y="507.8" width="8.2" height="8.2" fill="#fff" stroke="#111" stroke-width="1.7"/>
<rect x="817.5" y="486.9" width="8.2" height="8.2" fill="#fff" stroke="#111" stroke-width="1.7"/>
<rect x="821.9" y="472.2" width="8.2" height="8.2" fill="#fff" stroke="#111" stroke-width="1.7"/>
<rect x="824.8" y="442.9" width="8.2" height="8.2" fill="#fff" stroke="#111" stroke-width="1.7"/>
<rect x="829.2" y="413.5" width="8.2" height="8.2" fill="#fff" stroke="#111" stroke-width="1.7"/>
<rect x="831.7" y="394.1" width="8.2" height="8.2" fill="#fff" stroke="#111" stroke-width="1.7"/>
<rect x="835.1" y="377.3" width="8.2" height="8.2" fill="#fff" stroke="#111" stroke-width="1.7"/>
<rect x="840.1" y="347.1" width="8.2" height="8.2" fill="#fff" stroke="#111" stroke-width="1.7"/>
<rect x="843.5" y="330.3" width="8.2" height="8.2" fill="#fff" stroke="#111" stroke-width="1.7"/>
<rect x="845.1" y="313.5" width="8.2" height="8.2" fill="#fff" stroke="#111" stroke-width="1.7"/>
<rect x="848.5" y="301.8" width="8.2" height="8.2" fill="#fff" stroke="#111" stroke-width="1.7"/>
<rect x="853.5" y="295.1" width="8.2" height="8.2" fill="#fff" stroke="#111" stroke-width="1.7"/>
<rect x="860.2" y="286.7" width="8.2" height="8.2" fill="#fff" stroke="#111" stroke-width="1.7"/>
<rect x="863.6" y="310.2" width="8.2" height="8.2" fill="#fff" stroke="#111" stroke-width="1.7"/>
<rect x="870.3" y="303.5" width="8.2" height="8.2" fill="#fff" stroke="#111" stroke-width="1.7"/>
<rect x="877.0" y="303.5" width="8.2" height="8.2" fill="#fff" stroke="#111" stroke-width="1.7"/>
<rect x="882.1" y="320.2" width="8.2" height="8.2" fill="#fff" stroke="#111" stroke-width="1.7"/>
<rect x="886.3" y="316.3" width="8.2" height="8.2" fill="#fff" stroke="#111" stroke-width="1.7"/>
<rect x="890.5" y="308.5" width="8.2" height="8.2" fill="#fff" stroke="#111" stroke-width="1.7"/>
<rect x="893.9" y="288.4" width="8.2" height="8.2" fill="#fff" stroke="#111" stroke-width="1.7"/>
<rect x="897.2" y="276.6" width="8.2" height="8.2" fill="#fff" stroke="#111" stroke-width="1.7"/>
<rect x="900.5" y="269.9" width="8.2" height="8.2" fill="#fff" stroke="#111" stroke-width="1.7"/>
<rect x="903.9" y="258.2" width="8.2" height="8.2" fill="#fff" stroke="#111" stroke-width="1.7"/>
<rect x="907.2" y="246.4" width="8.2" height="8.2" fill="#fff" stroke="#111" stroke-width="1.7"/>
<rect x="910.6" y="236.3" width="8.2" height="8.2" fill="#fff" stroke="#111" stroke-width="1.7"/>
<rect x="917.3" y="226.3" width="8.2" height="8.2" fill="#fff" stroke="#111" stroke-width="1.7"/>
<rect x="922.3" y="207.8" width="8.2" height="8.2" fill="#fff" stroke="#111" stroke-width="1.7"/>
<rect x="925.7" y="219.5" width="8.2" height="8.2" fill="#fff" stroke="#111" stroke-width="1.7"/>
<rect x="930.7" y="227.9" width="8.2" height="8.2" fill="#fff" stroke="#111" stroke-width="1.7"/>
<rect x="937.4" y="238.0" width="8.2" height="8.2" fill="#fff" stroke="#111" stroke-width="1.7"/>
<rect x="940.8" y="241.4" width="8.2" height="8.2" fill="#fff" stroke="#111" stroke-width="1.7"/>
<rect x="944.2" y="261.5" width="8.2" height="8.2" fill="#fff" stroke="#111" stroke-width="1.7"/>
<rect x="949.3" y="272.9" width="8.2" height="8.2" fill="#fff" stroke="#111" stroke-width="1.7"/>
<rect x="952.7" y="279.5" width="8.2" height="8.2" fill="#fff" stroke="#111" stroke-width="1.7"/>
<rect x="957.7" y="297.9" width="8.2" height="8.2" fill="#fff" stroke="#111" stroke-width="1.7"/>
<rect x="961.1" y="308.1" width="8.2" height="8.2" fill="#fff" stroke="#111" stroke-width="1.7"/>
<rect x="965.3" y="310.8" width="8.2" height="8.2" fill="#fff" stroke="#111" stroke-width="1.7"/>
<rect x="969.5" y="309.8" width="8.2" height="8.2" fill="#fff" stroke="#111" stroke-width="1.7"/>
<rect x="974.6" y="311.3" width="8.2" height="8.2" fill="#fff" stroke="#111" stroke-width="1.7"/>
<rect x="979.6" y="311.5" width="8.2" height="8.2" fill="#fff" stroke="#111" stroke-width="1.7"/>
<rect x="986.3" y="297.9" width="8.2" height="8.2" fill="#fff" stroke="#111" stroke-width="1.7"/>
<rect x="991.3" y="294.7" width="8.2" height="8.2" fill="#fff" stroke="#111" stroke-width="1.7"/>
<rect x="997.9" y="303.1" width="8.2" height="8.2" fill="#fff" stroke="#111" stroke-width="1.7"/>
<rect x="1003.1" y="316.5" width="8.2" height="8.2" fill="#fff" stroke="#111" stroke-width="1.7"/>
<rect x="1008.1" y="324.9" width="8.2" height="8.2" fill="#fff" stroke="#111" stroke-width="1.7"/>
<rect x="1013.1" y="331.6" width="8.2" height="8.2" fill="#fff" stroke="#111" stroke-width="1.7"/>
<rect x="1017.3" y="338.8" width="8.2" height="8.2" fill="#fff" stroke="#111" stroke-width="1.7"/>
<rect x="1021.5" y="345.0" width="8.2" height="8.2" fill="#fff" stroke="#111" stroke-width="1.7"/>
<rect x="1026.6" y="363.5" width="8.2" height="8.2" fill="#fff" stroke="#111" stroke-width="1.7"/>
<rect x="1033.3" y="373.6" width="8.2" height="8.2" fill="#fff" stroke="#111" stroke-width="1.7"/>
<rect x="1039.9" y="388.7" width="8.2" height="8.2" fill="#fff" stroke="#111" stroke-width="1.7"/>
<rect x="1045.0" y="388.2" width="8.2" height="8.2" fill="#fff" stroke="#111" stroke-width="1.7"/>
<rect x="1050.1" y="390.4" width="8.2" height="8.2" fill="#fff" stroke="#111" stroke-width="1.7"/>
<rect x="1056.8" y="383.6" width="8.2" height="8.2" fill="#fff" stroke="#111" stroke-width="1.7"/>
<rect x="1061.9" y="370.2" width="8.2" height="8.2" fill="#fff" stroke="#111" stroke-width="1.7"/>
<rect x="1068.5" y="376.9" width="8.2" height="8.2" fill="#fff" stroke="#111" stroke-width="1.7"/>
<rect x="1073.6" y="380.3" width="8.2" height="8.2" fill="#fff" stroke="#111" stroke-width="1.7"/>
<rect x="1080.3" y="393.7" width="8.2" height="8.2" fill="#fff" stroke="#111" stroke-width="1.7"/>
<rect x="1087.0" y="410.5" width="8.2" height="8.2" fill="#fff" stroke="#111" stroke-width="1.7"/>
<rect x="1093.5" y="433.5" width="8.2" height="8.2" fill="#fff" stroke="#111" stroke-width="1.7"/>
<rect x="1098.6" y="441.1" width="8.2" height="8.2" fill="#fff" stroke="#111" stroke-width="1.7"/>
<rect x="1101.1" y="452.4" width="8.2" height="8.2" fill="#fff" stroke="#111" stroke-width="1.7"/>
<rect x="1107.4" y="463.8" width="8.2" height="8.2" fill="#fff" stroke="#111" stroke-width="1.7"/>
<rect x="1112.4" y="470.1" width="8.2" height="8.2" fill="#fff" stroke="#111" stroke-width="1.7"/>
<rect x="1116.2" y="483.9" width="8.2" height="8.2" fill="#fff" stroke="#111" stroke-width="1.7"/>
<rect x="1121.2" y="496.5" width="8.2" height="8.2" fill="#fff" stroke="#111" stroke-width="1.7"/>
<rect x="1126.3" y="504.1" width="8.2" height="8.2" fill="#fff" stroke="#111" stroke-width="1.7"/>
<rect x="1130.1" y="511.6" width="8.2" height="8.2" fill="#fff" stroke="#111" stroke-width="1.7"/>
<rect x="1134.5" y="510.9" width="8.2" height="8.2" fill="#fff" stroke="#111" stroke-width="1.7"/>
<rect x="1138.9" y="514.1" width="8.2" height="8.2" fill="#fff" stroke="#111" stroke-width="1.7"/>
<rect x="1142.7" y="516.8" width="8.2" height="8.2" fill="#fff" stroke="#111" stroke-width="1.7"/>
<rect x="1146.4" y="519.2" width="8.2" height="8.2" fill="#fff" stroke="#111" stroke-width="1.7"/>
<rect x="1151.5" y="521.2" width="8.2" height="8.2" fill="#fff" stroke="#111" stroke-width="1.7"/>
<rect x="1156.5" y="526.7" width="8.2" height="8.2" fill="#fff" stroke="#111" stroke-width="1.7"/>
<rect x="1162.8" y="531.8" width="8.2" height="8.2" fill="#fff" stroke="#111" stroke-width="1.7"/>
<rect x="1167.4" y="533.9" width="8.2" height="8.2" fill="#fff" stroke="#111" stroke-width="1.7"/>
<rect x="1172.1" y="537.5" width="8.2" height="8.2" fill="#fff" stroke="#111" stroke-width="1.7"/>
<rect x="1176.7" y="541.9" width="8.2" height="8.2" fill="#fff" stroke="#111" stroke-width="1.7"/>
<rect x="1180.9" y="546.7" width="8.2" height="8.2" fill="#fff" stroke="#111" stroke-width="1.7"/>
<rect x="1185.1" y="555.1" width="8.2" height="8.2" fill="#fff" stroke="#111" stroke-width="1.7"/>
<rect x="1189.3" y="561.9" width="8.2" height="8.2" fill="#fff" stroke="#111" stroke-width="1.7"/>
<rect x="1193.7" y="563.0" width="8.2" height="8.2" fill="#fff" stroke="#111" stroke-width="1.7"/>
<rect x="1198.1" y="564.5" width="8.2" height="8.2" fill="#fff" stroke="#111" stroke-width="1.7"/>
<rect x="1201.9" y="568.8" width="8.2" height="8.2" fill="#fff" stroke="#111" stroke-width="1.7"/>
<rect x="1205.6" y="570.4" width="8.2" height="8.2" fill="#fff" stroke="#111" stroke-width="1.7"/>
<rect x="1209.4" y="573.3" width="8.2" height="8.2" fill="#fff" stroke="#111" stroke-width="1.7"/>
<rect x="1213.8" y="575.4" width="8.2" height="8.2" fill="#fff" stroke="#111" stroke-width="1.7"/>
<rect x="1218.2" y="576.4" width="8.2" height="8.2" fill="#fff" stroke="#111" stroke-width="1.7"/>
<rect x="1222.6" y="578.7" width="8.2" height="8.2" fill="#fff" stroke="#111" stroke-width="1.7"/>
<rect x="1227.0" y="579.6" width="8.2" height="8.2" fill="#fff" stroke="#111" stroke-width="1.7"/>
<rect x="1230.8" y="580.4" width="8.2" height="8.2" fill="#fff" stroke="#111" stroke-width="1.7"/>
<rect x="1234.6" y="580.6" width="8.2" height="8.2" fill="#fff" stroke="#111" stroke-width="1.7"/>
<rect x="1238.3" y="584.4" width="8.2" height="8.2" fill="#fff" stroke="#111" stroke-width="1.7"/>
<rect x="1242.1" y="583.4" width="8.2" height="8.2" fill="#fff" stroke="#111" stroke-width="1.7"/>
<rect x="1245.9" y="585.7" width="8.2" height="8.2" fill="#fff" stroke="#111" stroke-width="1.7"/>
<rect x="1249.7" y="585.4" width="8.2" height="8.2" fill="#fff" stroke="#111" stroke-width="1.7"/>
<rect x="1253.5" y="585.2" width="8.2" height="8.2" fill="#fff" stroke="#111" stroke-width="1.7"/>
<rect x="1257.3" y="584.7" width="8.2" height="8.2" fill="#fff" stroke="#111" stroke-width="1.7"/>
<rect x="1261.5" y="584.0" width="8.2" height="8.2" fill="#fff" stroke="#111" stroke-width="1.7"/>
<rect x="1265.7" y="583.6" width="8.2" height="8.2" fill="#fff" stroke="#111" stroke-width="1.7"/>
<rect x="1269.9" y="584.7" width="8.2" height="8.2" fill="#fff" stroke="#111" stroke-width="1.7"/>
<polyline points="722.0,592.3 726.4,592.2 730.7,593.1 735.0,593.1 739.4,592.3 743.3,590.5 747.2,589.9 751.1,592.3 756.2,587.3 761.4,583.5 766.5,584.6 771.7,587.9 776.1,586.5 780.5,582.0 784.9,576.4 789.3,568.8 794.4,564.2 799.5,558.5 804.0,543.9 807.6,532.4 811.3,520.4 815.7,508.6 818.6,499.8 823.0,473.4 826.0,432.3 829.0,425.0 830.8,371.3 835.8,363.0 839.2,337.8 842.5,295.8 845.9,265.6 848.1,237.0 853.7,230.3 860.4,222.5 863.8,244.9 867.1,210.2 871.6,228.1 873.8,238.2 878.3,249.4 883.9,221.4 887.2,259.4 890.6,223.6 894.0,250.5 898.4,227.0 901.8,216.9 905.1,202.4 909.6,221.4 915.2,203.5 918.6,229.2 921.9,239.3 925.3,258.3 929.8,255.8 934.2,251.6 936.5,276.2 939.8,291.9 945.4,307.5 949.9,325.4 956.6,336.0 963.5,357.5 967.7,347.3 971.9,340.7 976.9,355.9 983.7,344.0 990.4,366.0 995.4,340.7 1000.4,364.2 1004.6,367.3 1008.8,371.0 1013.0,381.1 1017.2,394.5 1024.0,407.9 1030.7,421.3 1035.7,426.7 1040.7,428.0 1047.5,448.2 1054.2,451.5 1057.5,421.3 1061.8,420.8 1066.0,424.7 1071.0,421.2 1076.0,414.6 1079.4,434.8 1085.0,452.7 1090.0,461.6 1095.0,475.4 1100.2,488.0 1105.2,498.0 1107.7,506.9 1111.5,519.5 1115.3,530.8 1120.3,540.9 1125.3,544.7 1129.1,539.4 1132.9,538.4 1135.4,520.8 1139.2,530.5 1143.0,538.4 1148.0,530.8 1153.0,545.9 1158.0,538.8 1163.1,533.4 1166.9,551.0 1173.2,576.2 1177.0,563.6 1180.8,561.4 1184.5,561.9 1188.3,558.5 1190.8,583.7 1194.6,577.5 1198.4,576.2 1202.6,577.3 1206.8,584.9 1211.0,586.2 1216.0,585.0 1221.0,583.7 1224.8,582.9 1228.6,588.7 1232.4,589.8 1236.2,588.8 1240.2,586.3 1244.2,587.4 1248.3,585.4 1252.3,585.8 1256.3,586.2 1260.7,587.8 1265.2,586.4 1269.6,590.0 1274.0,590.0" fill="none" stroke="#f00" stroke-width="3" stroke-linejoin="round"/>
<circle cx="722.0" cy="592.3" r="4.7" fill="#fff" stroke="#f55" stroke-width="1.5"/>
<circle cx="726.4" cy="592.2" r="4.7" fill="#fff" stroke="#f55" stroke-width="1.5"/>
<circle cx="730.7" cy="593.1" r="4.7" fill="#fff" stroke="#f55" stroke-width="1.5"/>
<circle cx="735.0" cy="593.1" r="4.7" fill="#fff" stroke="#f55" stroke-width="1.5"/>
<circle cx="739.4" cy="592.3" r="4.7" fill="#fff" stroke="#f55" stroke-width="1.5"/>
<circle cx="743.3" cy="590.5" r="4.7" fill="#fff" stroke="#f55" stroke-width="1.5"/>
<circle cx="747.2" cy="589.9" r="4.7" fill="#fff" stroke="#f55" stroke-width="1.5"/>
<circle cx="751.1" cy="592.3" r="4.7" fill="#fff" stroke="#f55" stroke-width="1.5"/>
<circle cx="756.2" cy="587.3" r="4.7" fill="#fff" stroke="#f55" stroke-width="1.5"/>
<circle cx="761.4" cy="583.5" r="4.7" fill="#fff" stroke="#f55" stroke-width="1.5"/>
<circle cx="766.5" cy="584.6" r="4.7" fill="#fff" stroke="#f55" stroke-width="1.5"/>
<circle cx="771.7" cy="587.9" r="4.7" fill="#fff" stroke="#f55" stroke-width="1.5"/>
<circle cx="776.1" cy="586.5" r="4.7" fill="#fff" stroke="#f55" stroke-width="1.5"/>
<circle cx="780.5" cy="582.0" r="4.7" fill="#fff" stroke="#f55" stroke-width="1.5"/>
<circle cx="784.9" cy="576.4" r="4.7" fill="#fff" stroke="#f55" stroke-width="1.5"/>
<circle cx="789.3" cy="568.8" r="4.7" fill="#fff" stroke="#f55" stroke-width="1.5"/>
<circle cx="794.4" cy="564.2" r="4.7" fill="#fff" stroke="#f55" stroke-width="1.5"/>
<circle cx="799.5" cy="558.5" r="4.7" fill="#fff" stroke="#f55" stroke-width="1.5"/>
<circle cx="804.0" cy="543.9" r="4.7" fill="#fff" stroke="#f55" stroke-width="1.5"/>
<circle cx="807.6" cy="532.4" r="4.7" fill="#fff" stroke="#f55" stroke-width="1.5"/>
<circle cx="811.3" cy="520.4" r="4.7" fill="#fff" stroke="#f55" stroke-width="1.5"/>
<circle cx="815.7" cy="508.6" r="4.7" fill="#fff" stroke="#f55" stroke-width="1.5"/>
<circle cx="818.6" cy="499.8" r="4.7" fill="#fff" stroke="#f55" stroke-width="1.5"/>
<circle cx="823.0" cy="473.4" r="4.7" fill="#fff" stroke="#f55" stroke-width="1.5"/>
<circle cx="826.0" cy="432.3" r="4.7" fill="#fff" stroke="#f55" stroke-width="1.5"/>
<circle cx="829.0" cy="425.0" r="4.7" fill="#fff" stroke="#f55" stroke-width="1.5"/>
<circle cx="830.8" cy="371.3" r="4.7" fill="#fff" stroke="#f55" stroke-width="1.5"/>
<circle cx="835.8" cy="363.0" r="4.7" fill="#fff" stroke="#f55" stroke-width="1.5"/>
<circle cx="839.2" cy="337.8" r="4.7" fill="#fff" stroke="#f55" stroke-width="1.5"/>
<circle cx="842.5" cy="295.8" r="4.7" fill="#fff" stroke="#f55" stroke-width="1.5"/>
<circle cx="845.9" cy="265.6" r="4.7" fill="#fff" stroke="#f55" stroke-width="1.5"/>
<circle cx="848.1" cy="237.0" r="4.7" fill="#fff" stroke="#f55" stroke-width="1.5"/>
<circle cx="853.7" cy="230.3" r="4.7" fill="#fff" stroke="#f55" stroke-width="1.5"/>
<circle cx="860.4" cy="222.5" r="4.7" fill="#fff" stroke="#f55" stroke-width="1.5"/>
<circle cx="863.8" cy="244.9" r="4.7" fill="#fff" stroke="#f55" stroke-width="1.5"/>
<circle cx="867.1" cy="210.2" r="4.7" fill="#fff" stroke="#f55" stroke-width="1.5"/>
<circle cx="871.6" cy="228.1" r="4.7" fill="#fff" stroke="#f55" stroke-width="1.5"/>
<circle cx="873.8" cy="238.2" r="4.7" fill="#fff" stroke="#f55" stroke-width="1.5"/>
<circle cx="878.3" cy="249.4" r="4.7" fill="#fff" stroke="#f55" stroke-width="1.5"/>
<circle cx="883.9" cy="221.4" r="4.7" fill="#fff" stroke="#f55" stroke-width="1.5"/>
<circle cx="887.2" cy="259.4" r="4.7" fill="#fff" stroke="#f55" stroke-width="1.5"/>
<circle cx="890.6" cy="223.6" r="4.7" fill="#fff" stroke="#f55" stroke-width="1.5"/>
<circle cx="894.0" cy="250.5" r="4.7" fill="#fff" stroke="#f55" stroke-width="1.5"/>
<circle cx="898.4" cy="227.0" r="4.7" fill="#fff" stroke="#f55" stroke-width="1.5"/>
<circle cx="901.8" cy="216.9" r="4.7" fill="#fff" stroke="#f55" stroke-width="1.5"/>
<circle cx="905.1" cy="202.4" r="4.7" fill="#fff" stroke="#f55" stroke-width="1.5"/>
<circle cx="909.6" cy="221.4" r="4.7" fill="#fff" stroke="#f55" stroke-width="1.5"/>
<circle cx="915.2" cy="203.5" r="4.7" fill="#fff" stroke="#f55" stroke-width="1.5"/>
<circle cx="918.6" cy="229.2" r="4.7" fill="#fff" stroke="#f55" stroke-width="1.5"/>
<circle cx="921.9" cy="239.3" r="4.7" fill="#fff" stroke="#f55" stroke-width="1.5"/>
<circle cx="925.3" cy="258.3" r="4.7" fill="#fff" stroke="#f55" stroke-width="1.5"/>
<circle cx="929.8" cy="255.8" r="4.7" fill="#fff" stroke="#f55" stroke-width="1.5"/>
<circle cx="934.2" cy="251.6" r="4.7" fill="#fff" stroke="#f55" stroke-width="1.5"/>
<circle cx="936.5" cy="276.2" r="4.7" fill="#fff" stroke="#f55" stroke-width="1.5"/>
<circle cx="939.8" cy="291.9" r="4.7" fill="#fff" stroke="#f55" stroke-width="1.5"/>
<circle cx="945.4" cy="307.5" r="4.7" fill="#fff" stroke="#f55" stroke-width="1.5"/>
<circle cx="949.9" cy="325.4" r="4.7" fill="#fff" stroke="#f55" stroke-width="1.5"/>
<circle cx="956.6" cy="336.0" r="4.7" fill="#fff" stroke="#f55" stroke-width="1.5"/>
<circle cx="963.5" cy="357.5" r="4.7" fill="#fff" stroke="#f55" stroke-width="1.5"/>
<circle cx="967.7" cy="347.3" r="4.7" fill="#fff" stroke="#f55" stroke-width="1.5"/>
<circle cx="971.9" cy="340.7" r="4.7" fill="#fff" stroke="#f55" stroke-width="1.5"/>
<circle cx="976.9" cy="355.9" r="4.7" fill="#fff" stroke="#f55" stroke-width="1.5"/>
<circle cx="983.7" cy="344.0" r="4.7" fill="#fff" stroke="#f55" stroke-width="1.5"/>
<circle cx="990.4" cy="366.0" r="4.7" fill="#fff" stroke="#f55" stroke-width="1.5"/>
<circle cx="995.4" cy="340.7" r="4.7" fill="#fff" stroke="#f55" stroke-width="1.5"/>
<circle cx="1000.4" cy="364.2" r="4.7" fill="#fff" stroke="#f55" stroke-width="1.5"/>
<circle cx="1004.6" cy="367.3" r="4.7" fill="#fff" stroke="#f55" stroke-width="1.5"/>
<circle cx="1008.8" cy="371.0" r="4.7" fill="#fff" stroke="#f55" stroke-width="1.5"/>
<circle cx="1013.0" cy="381.1" r="4.7" fill="#fff" stroke="#f55" stroke-width="1.5"/>
<circle cx="1017.2" cy="394.5" r="4.7" fill="#fff" stroke="#f55" stroke-width="1.5"/>
<circle cx="1024.0" cy="407.9" r="4.7" fill="#fff" stroke="#f55" stroke-width="1.5"/>
<circle cx="1030.7" cy="421.3" r="4.7" fill="#fff" stroke="#f55" stroke-width="1.5"/>
<circle cx="1035.7" cy="426.7" r="4.7" fill="#fff" stroke="#f55" stroke-width="1.5"/>
<circle cx="1040.7" cy="428.0" r="4.7" fill="#fff" stroke="#f55" stroke-width="1.5"/>
<circle cx="1047.5" cy="448.2" r="4.7" fill="#fff" stroke="#f55" stroke-width="1.5"/>
<circle cx="1054.2" cy="451.5" r="4.7" fill="#fff" stroke="#f55" stroke-width="1.5"/>
<circle cx="1057.5" cy="421.3" r="4.7" fill="#fff" stroke="#f55" stroke-width="1.5"/>
<circle cx="1061.8" cy="420.8" r="4.7" fill="#fff" stroke="#f55" stroke-width="1.5"/>
<circle cx="1066.0" cy="424.7" r="4.7" fill="#fff" stroke="#f55" stroke-width="1.5"/>
<circle cx="1071.0" cy="421.2" r="4.7" fill="#fff" stroke="#f55" stroke-width="1.5"/>
<circle cx="1076.0" cy="414.6" r="4.7" fill="#fff" stroke="#f55" stroke-width="1.5"/>
<circle cx="1079.4" cy="434.8" r="4.7" fill="#fff" stroke="#f55" stroke-width="1.5"/>
<circle cx="1085.0" cy="452.7" r="4.7" fill="#fff" stroke="#f55" stroke-width="1.5"/>
<circle cx="1090.0" cy="461.6" r="4.7" fill="#fff" stroke="#f55" stroke-width="1.5"/>
<circle cx="1095.0" cy="475.4" r="4.7" fill="#fff" stroke="#f55" stroke-width="1.5"/>
<circle cx="1100.2" cy="488.0" r="4.7" fill="#fff" stroke="#f55" stroke-width="1.5"/>
<circle cx="1105.2" cy="498.0" r="4.7" fill="#fff" stroke="#f55" stroke-width="1.5"/>
<circle cx="1107.7" cy="506.9" r="4.7" fill="#fff" stroke="#f55" stroke-width="1.5"/>
<circle cx="1111.5" cy="519.5" r="4.7" fill="#fff" stroke="#f55" stroke-width="1.5"/>
<circle cx="1115.3" cy="530.8" r="4.7" fill="#fff" stroke="#f55" stroke-width="1.5"/>
<circle cx="1120.3" cy="540.9" r="4.7" fill="#fff" stroke="#f55" stroke-width="1.5"/>
<circle cx="1125.3" cy="544.7" r="4.7" fill="#fff" stroke="#f55" stroke-width="1.5"/>
<circle cx="1129.1" cy="539.4" r="4.7" fill="#fff" stroke="#f55" stroke-width="1.5"/>
<circle cx="1132.9" cy="538.4" r="4.7" fill="#fff" stroke="#f55" stroke-width="1.5"/>
<circle cx="1135.4" cy="520.8" r="4.7" fill="#fff" stroke="#f55" stroke-width="1.5"/>
<circle cx="1139.2" cy="530.5" r="4.7" fill="#fff" stroke="#f55" stroke-width="1.5"/>
<circle cx="1143.0" cy="538.4" r="4.7" fill="#fff" stroke="#f55" stroke-width="1.5"/>
<circle cx="1148.0" cy="530.8" r="4.7" fill="#fff" stroke="#f55" stroke-width="1.5"/>
<circle cx="1153.0" cy="545.9" r="4.7" fill="#fff" stroke="#f55" stroke-width="1.5"/>
<circle cx="1158.0" cy="538.8" r="4.7" fill="#fff" stroke="#f55" stroke-width="1.5"/>
<circle cx="1163.1" cy="533.4" r="4.7" fill="#fff" stroke="#f55" stroke-width="1.5"/>
<circle cx="1166.9" cy="551.0" r="4.7" fill="#fff" stroke="#f55" stroke-width="1.5"/>
<circle cx="1173.2" cy="576.2" r="4.7" fill="#fff" stroke="#f55" stroke-width="1.5"/>
<circle cx="1177.0" cy="563.6" r="4.7" fill="#fff" stroke="#f55" stroke-width="1.5"/>
<circle cx="1180.8" cy="561.4" r="4.7" fill="#fff" stroke="#f55" stroke-width="1.5"/>
<circle cx="1184.5" cy="561.9" r="4.7" fill="#fff" stroke="#f55" stroke-width="1.5"/>
<circle cx="1188.3" cy="558.5" r="4.7" fill="#fff" stroke="#f55" stroke-width="1.5"/>
<circle cx="1190.8" cy="583.7" r="4.7" fill="#fff" stroke="#f55" stroke-width="1.5"/>
<circle cx="1194.6" cy="577.5" r="4.7" fill="#fff" stroke="#f55" stroke-width="1.5"/>
<circle cx="1198.4" cy="576.2" r="4.7" fill="#fff" stroke="#f55" stroke-width="1.5"/>
<circle cx="1202.6" cy="577.3" r="4.7" fill="#fff" stroke="#f55" stroke-width="1.5"/>
<circle cx="1206.8" cy="584.9" r="4.7" fill="#fff" stroke="#f55" stroke-width="1.5"/>
<circle cx="1211.0" cy="586.2" r="4.7" fill="#fff" stroke="#f55" stroke-width="1.5"/>
<circle cx="1216.0" cy="585.0" r="4.7" fill="#fff" stroke="#f55" stroke-width="1.5"/>
<circle cx="1221.0" cy="583.7" r="4.7" fill="#fff" stroke="#f55" stroke-width="1.5"/>
<circle cx="1224.8" cy="582.9" r="4.7" fill="#fff" stroke="#f55" stroke-width="1.5"/>
<circle cx="1228.6" cy="588.7" r="4.7" fill="#fff" stroke="#f55" stroke-width="1.5"/>
<circle cx="1232.4" cy="589.8" r="4.7" fill="#fff" stroke="#f55" stroke-width="1.5"/>
<circle cx="1236.2" cy="588.8" r="4.7" fill="#fff" stroke="#f55" stroke-width="1.5"/>
<circle cx="1240.2" cy="586.3" r="4.7" fill="#fff" stroke="#f55" stroke-width="1.5"/>
<circle cx="1244.2" cy="587.4" r="4.7" fill="#fff" stroke="#f55" stroke-width="1.5"/>
<circle cx="1248.3" cy="585.4" r="4.7" fill="#fff" stroke="#f55" stroke-width="1.5"/>
<circle cx="1252.3" cy="585.8" r="4.7" fill="#fff" stroke="#f55" stroke-width="1.5"/>
<circle cx="1256.3" cy="586.2" r="4.7" fill="#fff" stroke="#f55" stroke-width="1.5"/>
<circle cx="1260.7" cy="587.8" r="4.7" fill="#fff" stroke="#f55" stroke-width="1.5"/>
<circle cx="1265.2" cy="586.4" r="4.7" fill="#fff" stroke="#f55" stroke-width="1.5"/>
<circle cx="1269.6" cy="590.0" r="4.7" fill="#fff" stroke="#f55" stroke-width="1.5"/>
<circle cx="1274.0" cy="590.0" r="4.7" fill="#fff" stroke="#f55" stroke-width="1.5"/>
</g>
<line x1="860.3" y1="594.0" x2="860.3" y2="191" stroke="#111" stroke-width="3.2" stroke-dasharray="10.5 7.5"/>
<line x1="926.4" y1="594.0" x2="926.4" y2="187" stroke="#111" stroke-width="3.2" stroke-dasharray="10.5 7.5"/>
<line x1="994.9" y1="594.0" x2="994.9" y2="261.2" stroke="#111" stroke-width="3.2" stroke-dasharray="10.5 7.5"/>
<line x1="1071.25" y1="594.0" x2="1071.25" y2="348.75" stroke="#111" stroke-width="3.2" stroke-dasharray="10.5 7.5"/>
<line x1="1161.8" y1="594.0" x2="1161.8" y2="480.4" stroke="#111" stroke-width="3.2" stroke-dasharray="10.5 7.5"/>
<path transform="translate(0,0)" d="M121.3,14.6 V49.3 H114.3 V25 C111.5,26.6 108.8,27.4 106,27.6 V21.4 C109.5,20.6 112.8,18.2 115,14.6 Z" fill="#000"/>
<path transform="translate(656,1.5)" d="M121.3,14.6 V49.3 H114.3 V25 C111.5,26.6 108.8,27.4 106,27.6 V21.4 C109.5,20.6 112.8,18.2 115,14.6 Z" fill="#000"/>
<line x1="217.1" y1="103.6" x2="310.6" y2="103.6" stroke="#000" stroke-width="5.0" stroke-linecap="round"/>
<line x1="310.6" y1="103.6" x2="410.3" y2="103.6" stroke="#f00" stroke-width="5.0" stroke-linecap="round"/>
<rect x="260.4" y="98.6" width="10" height="10" fill="#000"/>
<circle cx="361.7" cy="103.6" r="5" fill="#f00"/>
<line x1="869.0" y1="103.0" x2="962.5" y2="103.0" stroke="#000" stroke-width="4.2" stroke-linecap="round"/>
<line x1="962.5" y1="103.0" x2="1058.9" y2="103.0" stroke="#f00" stroke-width="4.2" stroke-linecap="round"/>
<rect x="910.8" y="98.4" width="9.2" height="9.2" rx="1" fill="#fff" stroke="#111" stroke-width="1.6"/>
<circle cx="1011.8" cy="103.0" r="4.5" fill="#fff" stroke="#f33" stroke-width="1.6"/>
<text transform="matrix(0.9968 0 0 1.056 69.41 49.40)" font-size="48" font-weight="bold">C</text>
<text transform="matrix(1.035 0 0 1.046 127.13 49.20)" font-size="48" font-weight="bold">s</text>
<text transform="matrix(1.064 0 0 1.016 85.97 117.10)" font-size="42" font-weight="bold">(a)</text>
<text transform="matrix(1.019 0 0 1.157 217.46 51.25)" font-size="42">C</text>
<text transform="matrix(0.9615 0 0 1.058 248.44 68.75)" font-size="26" class="sub">4</text>
<text transform="matrix(0.981 0 0 1.126 262.96 50.90)" font-size="42">F</text>
<text transform="matrix(1.008 0 0 1.089 288.99 69.00)" font-size="26" class="sub">8</text>
<text transform="matrix(1.014 0 0 1.157 315.37 51.25)" font-size="42">CHF</text>
<text transform="matrix(1.083 0 0 1.094 404.42 68.70)" font-size="26" class="sub">3</text>
<text transform="matrix(1.036 0 0 1.098 422.86 120.30)" font-size="42">Thin Film</text>
<text transform="matrix(1.032 0 0 1.11 218.40 173.60)" font-size="42">After Deposition</text>
<text transform="matrix(1.011 0 0 1.022 150.98 238.40)" font-size="36">C-C/H</text>
<text transform="matrix(0.994 0 0 1.046 228.51 292.00)" font-size="36">C-CF</text>
<text transform="matrix(0.993 0 0 1.05 315.91 347.30)" font-size="36">C-F</text>
<text transform="matrix(1.013 0 0 1.058 398.97 410.60)" font-size="36">C-F</text>
<text transform="matrix(1.125 0 0 1.183 458.88 426.25)" font-size="22" class="sub">2</text>
<text transform="matrix(1.016 0 0 1.096 486.77 476.90)" font-size="36">C-F</text>
<text transform="matrix(1.14 0 0 1.12 546.36 492.00)" font-size="22" class="sub">3</text>
<text transform="matrix(1.018 0 0 1.069 132.96 647.30)" font-size="42">284</text>
<text transform="matrix(1.041 0 0 1.069 272.92 647.30)" font-size="42">288</text>
<text transform="matrix(1.041 0 0 1.069 412.22 647.30)" font-size="42">292</text>
<text transform="matrix(1.051 0 0 1.069 552.30 647.30)" font-size="42">296</text>
<text transform="matrix(1.023 0 0 1.097 154.13 702.30)" font-size="42">Binding Energy [eV]</text>
<text transform="matrix(0 -1.05 1.061 0 34.62 461.90)" font-size="41">Intensity [a.u.]</text>
<text transform="matrix(0.9935 0 0 1.047 727.41 51.10)" font-size="48" font-weight="bold">C</text>
<text transform="matrix(1.035 0 0 1.025 783.53 50.90)" font-size="48" font-weight="bold">s</text>
<text transform="matrix(1.05 0 0 1.016 741.00 117.10)" font-size="42" font-weight="bold">(b)</text>
<text transform="matrix(1.019 0 0 1.157 868.26 51.25)" font-size="42">C</text>
<text transform="matrix(0.9615 0 0 1.058 899.24 68.75)" font-size="26" class="sub">4</text>
<text transform="matrix(0.981 0 0 1.126 913.76 50.90)" font-size="42">F</text>
<text transform="matrix(1.008 0 0 1.089 939.79 69.00)" font-size="26" class="sub">8</text>
<text transform="matrix(1.005 0 0 1.157 966.19 51.25)" font-size="42">CHF</text>
<text transform="matrix(1.083 0 0 1.094 1053.92 68.70)" font-size="26" class="sub">3</text>
<text transform="matrix(1.024 0 0 1.055 1072.73 118.70)" font-size="42">Thick Film</text>
<text transform="matrix(1.021 0 0 1.093 868.90 171.20)" font-size="42">After Deposition</text>
<text transform="matrix(1.001 0 0 1.041 746.90 202.30)" font-size="36">C-C/H</text>
<text transform="matrix(1 0 0 1.065 948.00 221.10)" font-size="36">C-CF</text>
<text transform="matrix(1.014 0 0 1.05 1010.97 278.00)" font-size="36">C-F</text>
<text transform="matrix(0.9956 0 0 1.081 1069.26 333.10)" font-size="36">C-F</text>
<text transform="matrix(1.15 0 0 1.227 1127.35 349.00)" font-size="22" class="sub">2</text>
<text transform="matrix(1.005 0 0 1.054 1140.19 461.30)" font-size="36">C-F</text>
<text transform="matrix(1.15 0 0 1.107 1199.15 477.00)" font-size="22" class="sub">3</text>
<text transform="matrix(1.027 0 0 1.036 789.65 643.80)" font-size="42">284</text>
<text transform="matrix(1.036 0 0 1.036 928.33 643.80)" font-size="42">288</text>
<text transform="matrix(1.03 0 0 1.036 1066.24 643.80)" font-size="42">292</text>
<text transform="matrix(1.021 0 0 1.036 1204.56 643.80)" font-size="42">296</text>
<text transform="matrix(1.017 0 0 1.124 810.15 698.80)" font-size="42">Binding Energy [eV]</text>
<text transform="matrix(0 -1.045 1.076 0 692.89 460.68)" font-size="41">Intensity [a.u.]</text>
</svg></div>
</body></html>
